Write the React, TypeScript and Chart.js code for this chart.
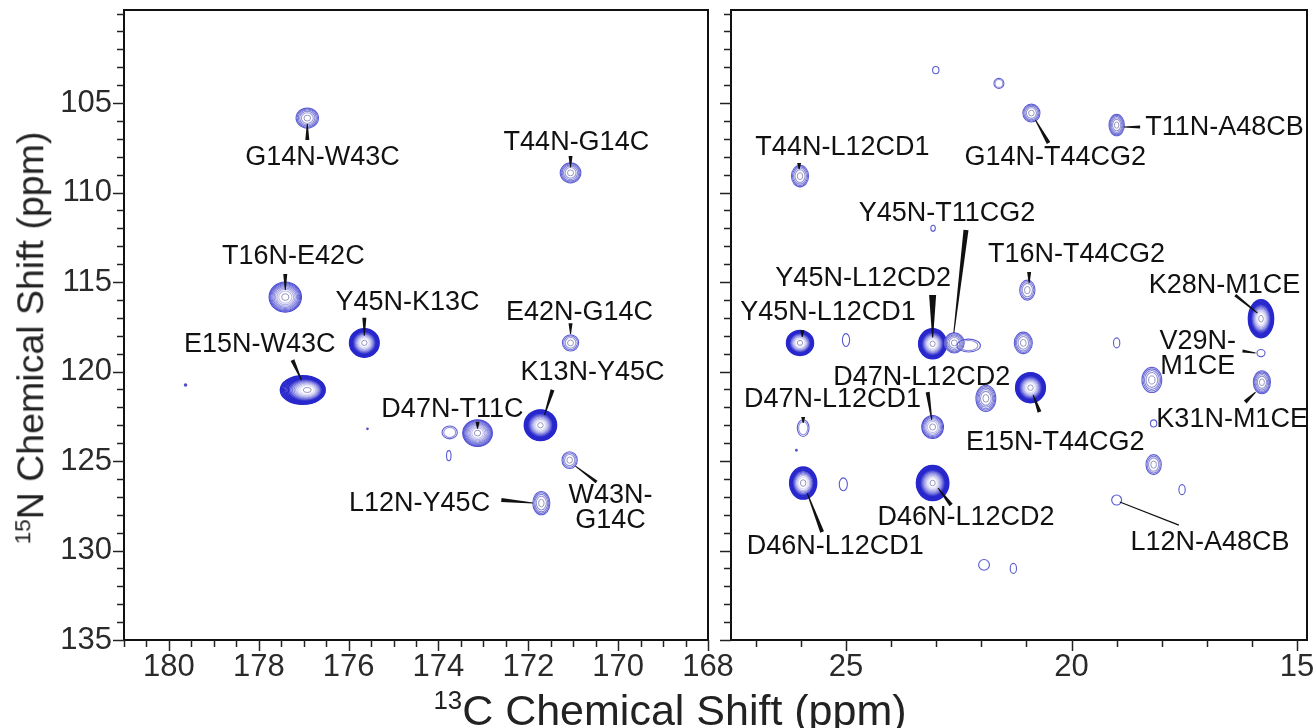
import React, { useEffect, useRef } from "react";
import { Chart, registerables } from "chart.js";
Chart.register(...registerables);

const FONT = "'Liberation Sans', Arial, Helvetica, sans-serif";

// ---------------- Left panel: carbonyl 13C region (ppm) ----------------
const leftPeakC = [176.92, 171.06, 177.41, 175.65, 176.92, 179.63, 171.06, 171.73, 173.13, 173.75, 173.77, 175.58, 171.08, 171.71];
const leftPeakN = [105.84, 108.9, 115.84, 118.4, 121.03, 120.75, 118.4, 123.0, 123.44, 123.4, 124.7, 123.2, 124.95, 127.35];
const leftPeakWidthC = [0.25, 0.23, 0.36, 0.33, 0.5, 0.04, 0.18, 0.36, 0.33, 0.17, 0.05, 0.03, 0.17, 0.19];
const leftPeakWidthN = [0.56, 0.56, 0.84, 0.8, 0.8, 0.1, 0.45, 0.86, 0.75, 0.36, 0.28, 0.08, 0.47, 0.65];
const leftPeakContours = [5, 5, 9, 14, 15, 1, 3, 16, 10, 2, 1, 1, 3, 4];
const leftPeakSkewC = [0, 0, 0, 0, 0.1, 0, 0, 0, 0, 0, 0, 0, 0, 0];

const leftLabelText = ["G14N-W43C", "T44N-G14C", "T16N-E42C", "Y45N-K13C", "E15N-W43C", "E42N-G14C", "K13N-Y45C", "D47N-T11C", "L12N-Y45C", "W43N-\nG14C"];
const leftLabelC = [176.58, 170.93, 177.23, 174.69, 177.98, 170.86, 170.57, 173.69, 174.42, 170.17];
const leftLabelN = [108.07, 107.23, 113.6, 116.12, 118.52, 116.68, 120.08, 122.15, 127.35, 127.62];
const leftLeaderFrom: [number, number][] = [[176.92, 107.07], [171.06, 107.96], [177.41, 114.55], [175.65, 117.0], [177.25, 119.36], [171.06, 117.3], [171.46, 121.03], [173.13, 122.8], [172.6, 127.18], [170.48, 126.17]];
const leftLeaderTo: [number, number][] = [[176.92, 106.17], [171.06, 108.58], [177.41, 115.45], [175.65, 118.0], [177.05, 120.47], [171.06, 117.9], [171.64, 122.43], [173.13, 123.2], [171.9, 127.35], [170.95, 125.28]];
const leftLeaderWidth = [4, 4, 4, 4, 4, 4, 4, 4, 4, 3];

const leftCTickLabels = [180, 178, 176, 174, 172, 170, 168];

// ---------------- Right panel: aliphatic 13C region (ppm) ----------------
const rightPeakC = [23.01, 21.61, 20.89, 19.0, 26.02, 23.07, 20.98, 23.08, 22.6, 22.28, 26.02, 25.0, 21.07, 19.0, 15.8, 15.8, 15.78, 20.91, 18.22, 18.18, 18.18, 17.55, 19.0, 25.95, 23.08, 21.9, 26.1, 25.95, 25.06, 23.08, 21.94, 21.29];
const rightPeakN = [103.16, 103.9, 105.56, 106.23, 109.08, 112.0, 115.45, 118.45, 118.4, 118.55, 118.4, 118.24, 118.4, 118.4, 117.05, 118.97, 120.6, 120.9, 120.47, 122.9, 125.2, 126.6, 127.18, 123.16, 123.1, 121.5, 124.4, 126.23, 126.3, 126.23, 130.8, 131.0];
const rightPeakWidthC = [0.07, 0.11, 0.19, 0.17, 0.19, 0.05, 0.17, 0.31, 0.22, 0.26, 0.3, 0.08, 0.2, 0.07, 0.28, 0.09, 0.19, 0.33, 0.22, 0.07, 0.17, 0.07, 0.11, 0.13, 0.24, 0.22, 0.03, 0.3, 0.09, 0.36, 0.12, 0.07];
const rightPeakWidthN = [0.2, 0.28, 0.5, 0.6, 0.6, 0.17, 0.56, 0.84, 0.56, 0.36, 0.7, 0.36, 0.6, 0.28, 1.06, 0.2, 0.64, 0.84, 0.7, 0.2, 0.56, 0.28, 0.28, 0.47, 0.64, 0.73, 0.08, 0.9, 0.36, 0.98, 0.3, 0.28];
const rightPeakContours = [1, 2, 4, 5, 4, 1, 3, 14, 5, 2, 12, 1, 4, 1, 14, 1, 5, 14, 4, 1, 3, 1, 1, 2, 6, 5, 1, 11, 1, 18, 1, 1];
const rightPeakSkewC = rightPeakC.map(() => 0);

const rightLabelText = ["T44N-L12CD1", "G14N-T44CG2", "T11N-A48CB", "T16N-T44CG2", "Y45N-T11CG2", "Y45N-L12CD2", "Y45N-L12CD1", "K28N-M1CE", "V29N-\nM1CE", "K31N-M1CE", "E15N-T44CG2", "D47N-L12CD2", "D47N-L12CD1", "D46N-L12CD1", "D46N-L12CD2", "L12N-A48CB"];
const rightLabelC = [25.08, 20.36, 16.61, 19.89, 22.76, 24.62, 25.4, 16.61, 17.2, 16.44, 20.36, 23.32, 25.3, 25.24, 22.34, 16.93];
const rightLabelN = [107.51, 108.02, 106.34, 113.49, 111.15, 114.78, 116.73, 115.17, 119.0, 122.71, 123.99, 120.31, 121.59, 129.8, 128.18, 129.53];
const rightLeaderFrom: [number, number][] = [[26.04, 108.35], [20.51, 107.23], [18.48, 106.34], [20.94, 114.44], [22.34, 112.09], [23.08, 115.73], [25.97, 117.7], [16.37, 115.73], [16.21, 118.85], [16.15, 121.7], [20.71, 122.26], [23.19, 121.15], [25.95, 122.54], [25.53, 128.97], [22.67, 127.46], [17.62, 128.58]];
const rightLeaderTo: [number, number][] = [[26.04, 108.7], [20.8, 105.95], [18.84, 106.34], [20.94, 115.06], [22.61, 117.85], [23.08, 118.1], [25.97, 118.07], [15.88, 116.73], [15.92, 118.97], [15.92, 121.15], [20.85, 121.31], [23.1, 122.7], [25.95, 122.88], [25.86, 126.79], [22.96, 126.51], [18.93, 127.29]];
const rightLeaderWidth = [4, 4, 3, 4, 5, 7, 4, 3, 3, 4, 4, 4, 4, 4, 4, 1.5];

const rightCTickLabels = [25, 20, 15];

// ---------------- 15N axis ----------------
const nTickLabels = [105, 110, 115, 120, 125, 130, 135];

function range(a: number, b: number, step: number) {
  const out: number[] = [];
  for (let v = a; v <= b + 1e-9; v += step) out.push(Math.round(v * 100) / 100);
  return out;
}

type Spec = {
  xMin: number; xMax: number; xTicks: number[]; xLabels: number[];
  yAxisWidth: number; padRight: number; showYLabels: boolean;
  peakC: number[]; peakN: number[]; peakWC: number[]; peakWN: number[]; peakLevels: number[]; peakSkew: number[];
  labelText: string[]; labelC: number[]; labelN: number[];
  leaderFrom: [number, number][]; leaderTo: [number, number][]; leaderWidth: number[];
};

const Y_MIN = 99.8, Y_MAX = 135;
const nTicks = range(100, 135, 1);

function lerp(a: number[], b: number[], t: number) {
  const c = a.map((v, i) => Math.round(v + (b[i] - v) * t));
  return `rgb(${c[0]},${c[1]},${c[2]})`;
}

function contourColor(k: number, L: number) {
  const t = L > 1 ? k / (L - 1) : 0;
  if (L >= 11) {
    if (t < 0.5) return "rgb(40,40,205)";
    return lerp([40, 40, 205], [225, 225, 245], (t - 0.5) / 0.5);
  }
  if (L >= 6) return lerp([70, 70, 210], [190, 190, 235], t);
  return lerp([95, 95, 215], [150, 150, 215], t);
}

function wedge(ctx: CanvasRenderingContext2D, x1: number, y1: number, w1: number, x2: number, y2: number, w2: number) {
  const dx = x2 - x1, dy = y2 - y1;
  const len = Math.hypot(dx, dy) || 1;
  const nx = -dy / len, ny = dx / len;
  ctx.beginPath();
  ctx.moveTo(x1 + (nx * w1) / 2, y1 + (ny * w1) / 2);
  ctx.lineTo(x2 + (nx * w2) / 2, y2 + (ny * w2) / 2);
  ctx.lineTo(x2 - (nx * w2) / 2, y2 - (ny * w2) / 2);
  ctx.lineTo(x1 - (nx * w1) / 2, y1 - (ny * w1) / 2);
  ctx.closePath();
  ctx.fill();
}

function nmrPlugin(spec: Spec) {
  return {
    id: "nmr",
    afterDraw(chart: any) {
      const { ctx, chartArea: a, scales } = chart;
      const xs = scales.x, ys = scales.y;
      const px = (c: number) => xs.getPixelForValue(c);
      const py = (n: number) => ys.getPixelForValue(n);
      ctx.save();
      // contours
      ctx.save();
      ctx.beginPath();
      ctx.rect(a.left, a.top, a.right - a.left, a.bottom - a.top);
      ctx.clip();
      spec.peakC.forEach((c, i) => {
        const n = spec.peakN[i];
        const cx = px(c), cy = py(n);
        const rx = Math.abs(px(c + spec.peakWC[i]) - cx);
        const ry = Math.abs(py(n + spec.peakWN[i]) - cy);
        const L = spec.peakLevels[i];
        const skew = px(c + spec.peakSkew[i]) - cx;
        if (L === 1 && rx < 2) {
          ctx.fillStyle = "rgb(80,80,200)";
          ctx.beginPath();
          ctx.ellipse(cx, cy, Math.max(rx, 1.2), Math.max(ry, 1.2), 0, 0, Math.PI * 2);
          ctx.fill();
          return;
        }
        for (let k = 0; k < L; k++) {
          const f = L === 1 ? 1 : Math.sqrt(1 - k / (L + 0.6));
          const off = skew * (1 - k / L);
          ctx.strokeStyle = L === 1 ? "rgb(90,90,210)" : contourColor(k, L);
          ctx.lineWidth = L >= 11 ? 1.4 : 1.1;
          ctx.beginPath();
          ctx.ellipse(cx + off, cy, rx * f, ry * f, 0, 0, Math.PI * 2);
          ctx.stroke();
        }
        if (L >= 3) {
          const f = Math.sqrt(1 - L / (L + 0.6)) * 0.9;
          ctx.fillStyle = "#ffffff";
          ctx.strokeStyle = "rgb(150,150,190)";
          ctx.lineWidth = 1;
          ctx.beginPath();
          ctx.ellipse(cx, cy, Math.max(rx * f, 2), Math.max(ry * f, 2), 0, 0, Math.PI * 2);
          ctx.fill();
          ctx.stroke();
        }
      });
      ctx.restore();

      // frame
      ctx.strokeStyle = "#111";
      ctx.lineWidth = 2;
      ctx.strokeRect(a.left, a.top, a.right - a.left, a.bottom - a.top);

      // tick marks
      ctx.lineWidth = 1.5;
      ctx.strokeStyle = "#222";
      nTicks.forEach((v) => {
        const y = Math.round(py(v)) + 0.5;
        const len = nTickLabels.includes(v) ? 11 : 7;
        ctx.beginPath();
        ctx.moveTo(a.left, y);
        ctx.lineTo(a.left - len, y);
        ctx.stroke();
      });
      spec.xTicks.forEach((v) => {
        const x = Math.round(px(v)) + 0.5;
        const len = spec.xLabels.includes(v) ? 11 : 7;
        ctx.beginPath();
        ctx.moveTo(x, a.bottom);
        ctx.lineTo(x, a.bottom + len);
        ctx.stroke();
      });

      // leaders
      ctx.fillStyle = "#111";
      spec.leaderFrom.forEach((f, i) => {
        const t = spec.leaderTo[i];
        wedge(ctx, px(f[0]), py(f[1]), spec.leaderWidth[i], px(t[0]), py(t[1]), 1);
      });

      // labels
      ctx.font = `27px ${FONT}`;
      ctx.textAlign = "center";
      ctx.textBaseline = "middle";
      ctx.fillStyle = "#111";
      spec.labelText.forEach((txt, i) => {
        const lines = txt.split("\n");
        const lh = 25;
        const x = px(spec.labelC[i]);
        const y0 = py(spec.labelN[i]) - ((lines.length - 1) * lh) / 2;
        lines.forEach((ln, j) => ctx.fillText(ln, x, y0 + j * lh));
      });
      ctx.restore();
    },
  };
}

function buildConfig(spec: Spec): any {
  const points = spec.peakC.map((c, i) => ({ x: c, y: spec.peakN[i] }));
  return {
    type: "scatter",
    data: { datasets: [{ data: points, pointRadius: 0, pointHoverRadius: 0 }] },
    options: {
      animation: false,
      responsive: false,
      maintainAspectRatio: false,
      events: [],
      layout: { padding: { top: 10, right: spec.padRight, bottom: 0, left: 0 } },
      plugins: { legend: { display: false }, tooltip: { enabled: false }, title: { display: false } },
      scales: {
        x: {
          type: "linear",
          reverse: true,
          min: spec.xMin,
          max: spec.xMax,
          afterBuildTicks: (s: any) => {
            s.ticks = spec.xTicks.map((v) => ({ value: v }));
          },
          afterFit: (s: any) => {
            s.height = 88;
            s.paddingLeft = 0;
            s.paddingRight = 0;
          },
          grid: { display: false, drawTicks: false },
          border: { display: false },
          ticks: {
            autoSkip: false,
            maxRotation: 0,
            minRotation: 0,
            padding: 9,
            color: "#2a2a2a",
            font: { family: FONT, size: 31 },
            callback: (v: number) => (spec.xLabels.includes(v) ? String(v) : ""),
          },
        },
        y: {
          type: "linear",
          reverse: true,
          min: Y_MIN,
          max: Y_MAX,
          afterBuildTicks: (s: any) => {
            s.ticks = nTicks.map((v) => ({ value: v }));
          },
          afterFit: (s: any) => {
            s.width = spec.yAxisWidth;
            s.paddingTop = 0;
            s.paddingBottom = 0;
          },
          grid: { display: false, drawTicks: false },
          border: { display: false },
          ticks: {
            display: spec.showYLabels,
            autoSkip: false,
            padding: 12,
            color: "#2a2a2a",
            font: { family: FONT, size: 31 },
            callback: (v: number) => (nTickLabels.includes(v) ? String(v) : ""),
          },
        },
      },
    },
    plugins: [nmrPlugin(spec)],
  };
}

const leftSpec: Spec = {
  xMin: 168, xMax: 181, xTicks: range(168, 181, 0.5), xLabels: leftCTickLabels,
  yAxisWidth: 124, padRight: 52, showYLabels: true,
  peakC: leftPeakC, peakN: leftPeakN, peakWC: leftPeakWidthC, peakWN: leftPeakWidthN, peakLevels: leftPeakContours, peakSkew: leftPeakSkewC,
  labelText: leftLabelText, labelC: leftLabelC, labelN: leftLabelN,
  leaderFrom: leftLeaderFrom, leaderTo: leftLeaderTo, leaderWidth: leftLeaderWidth,
};

const rightSpec: Spec = {
  xMin: 14.78, xMax: 27.55, xTicks: range(15, 27, 1), xLabels: rightCTickLabels,
  yAxisWidth: 15, padRight: 7, showYLabels: false,
  peakC: rightPeakC, peakN: rightPeakN, peakWC: rightPeakWidthC, peakWN: rightPeakWidthN, peakLevels: rightPeakContours, peakSkew: rightPeakSkewC,
  labelText: rightLabelText, labelC: rightLabelC, labelN: rightLabelN,
  leaderFrom: rightLeaderFrom, leaderTo: rightLeaderTo, leaderWidth: rightLeaderWidth,
};

function Panel({ spec, left, width }: { spec: Spec; left: number; width: number }) {
  const ref = useRef<HTMLCanvasElement>(null);
  useEffect(() => {
    const chart = new Chart(ref.current as HTMLCanvasElement, buildConfig(spec));
    return () => chart.destroy();
  }, [spec]);
  return (
    <canvas
      ref={ref}
      width={width}
      height={728}
      style={{ position: "absolute", left, top: 0, width, height: 728 }}
    />
  );
}

export default function App() {
  return (
    <div style={{ position: "absolute", left: 0, top: 0, width: 1314, height: 728, background: "#fff", overflow: "hidden" }}>
      <Panel spec={rightSpec} left={716} width={598} />
      <Panel spec={leftSpec} left={0} width={760} />
      <div
        style={{
          position: "absolute", left: 31, top: 338, transform: "translate(-50%,-50%) rotate(-90deg)",
          fontFamily: FONT, fontSize: 37.5, color: "#222", whiteSpace: "nowrap", lineHeight: 1,
        }}
      >
        <sup style={{ fontSize: "0.6em", lineHeight: 0 }}>15</sup>N Chemical Shift (ppm)
      </div>
      <div
        style={{
          position: "absolute", left: 670, top: 710, transform: "translate(-50%,-50%)",
          fontFamily: FONT, fontSize: 43, color: "#222", whiteSpace: "nowrap", lineHeight: 1,
        }}
      >
        <sup style={{ fontSize: "0.6em", lineHeight: 0 }}>13</sup>C Chemical Shift (ppm)
      </div>
    </div>
  );
}
